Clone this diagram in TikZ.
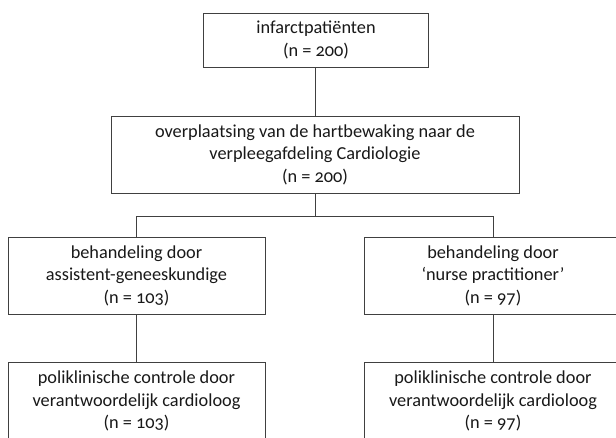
\documentclass[tikz,border=0pt]{standalone}
\usepackage{fontspec}
\setmainfont{Carlito}[Numbers=OldStyle]
\begin{document}
\begin{tikzpicture}[x=1pt,y=-1pt,
  box/.style={draw=black!75, line width=1pt, inner sep=0pt, align=center,
    font=\fontsize{18.3}{22.5}\selectfont, text=black!90},
  conn/.style={draw=black!75, line width=1pt}]
\useasboundingbox (0,0) rectangle (616,437);
\fill[white] (0,0) rectangle (616,437);
\clip (0,0) rectangle (616,437);
\node[box, minimum width=225pt, minimum height=54pt] (top) at (316,40)
  {infarctpatiënten\\(n = 200)};
\node[box, minimum width=408pt, minimum height=77pt] (sec) at (315,154.5)
  {overplaatsing van de hartbewaking naar de\\verpleegafdeling Cardiologie\\(n = 200)};
\node[box, minimum width=257pt, minimum height=77pt] (ml) at (136.5,275.5)
  {behandeling door\\assistent-geneeskundige\\(n = 103)};
\node[box, minimum width=258pt, minimum height=77pt] (mr) at (493,275.5)
  {behandeling door\\‘nurse practitioner’\\(n = 97)};
\node[box, minimum width=257pt, minimum height=78pt] (bl) at (136.5,401)
  {poliklinische controle door\\verantwoordelijk cardioloog\\(n = 103)};
\node[box, minimum width=258pt, minimum height=78pt] (br) at (493,401)
  {poliklinische controle door\\verantwoordelijk cardioloog\\(n = 97)};
\coordinate (bus) at (315,216);
\draw[conn] (sec.north |- top.south) -- (sec.north);
\draw[conn] (sec.south) -- (bus);
\draw[conn] (bus) -| (ml.north);
\draw[conn] (bus) -| (mr.north);
\draw[conn] (ml.south) -- (bl.north);
\draw[conn] (mr.south) -- (br.north);
\end{tikzpicture}
\end{document}
